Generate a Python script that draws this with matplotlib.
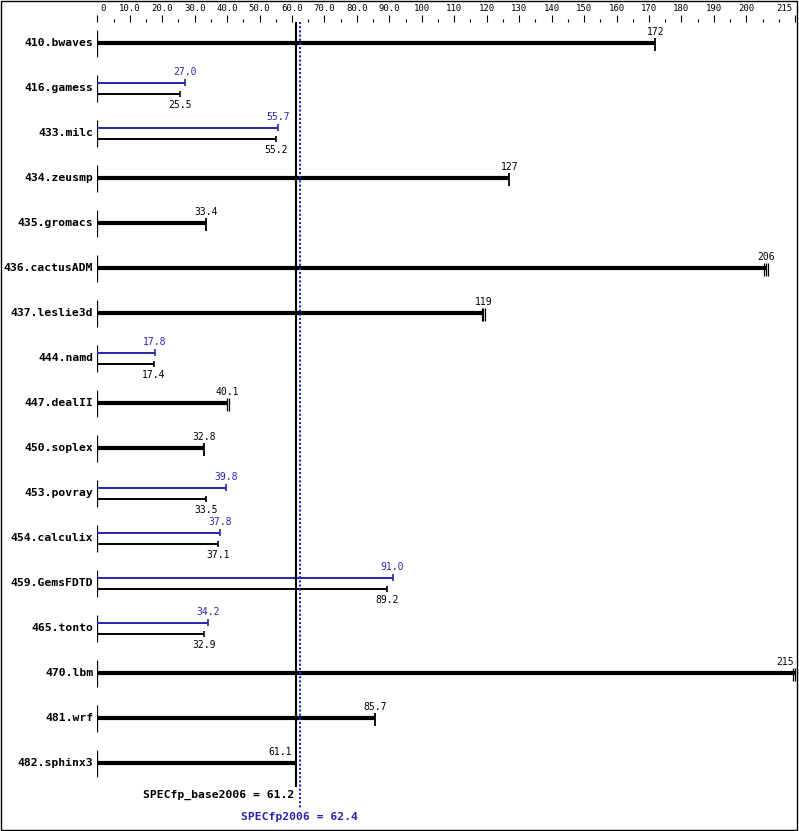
import matplotlib
matplotlib.use("Agg")
import matplotlib.pyplot as plt
import numpy as np
from matplotlib.patches import Rectangle

# SPEC CPU2006 floating point ratios
benchmarks = ["410.bwaves", "416.gamess", "433.milc", "434.zeusmp", "435.gromacs",
              "436.cactusADM", "437.leslie3d", "444.namd", "447.dealII", "450.soplex",
              "453.povray", "454.calculix", "459.GemsFDTD", "465.tonto", "470.lbm",
              "481.wrf", "482.sphinx3"]
base = [172, 25.5, 55.2, 127, 33.4, 206, 119, 17.4, 40.1, 32.8,
        33.5, 37.1, 89.2, 32.9, 215, 85.7, 61.1]
# None = peak same as base (single thick bar)
peak = [None, 27.0, 55.7, None, None, None, None, 17.8, None, None,
        39.8, 37.8, 91.0, 34.2, None, None, None]
# individual run values shown as end ticks where runs differ visibly
runs = {5: [205.4, 206.0, 206.7], 6: [118.5, 119.0, 119.5],
        8: [40.1, 40.7], 14: [214.5, 215.0]}
base_mean = 61.2
peak_mean = 62.4

blue = "#2626b0"
mono = "DejaVu Sans Mono"
W, H = 799, 831
xmax = 215

fig = plt.figure(figsize=(W / 100, H / 100), dpi=100)
fig.patch.set_facecolor("white")
ax = fig.add_axes([97.3 / W, 0, xmax * 3.245 / W, 1])
ax.set_xlim(0, xmax)
ax.set_ylim(17.51, -0.956)
ax.axis("off")

# top scale
for v in range(0, xmax + 1, 5):
    major = (v % 10 == 0 and v != 210) or v == 215
    ax.vlines(v, -0.622 if major else -0.533, -0.467, color="black", lw=0.8, clip_on=False)
tick_labels = [0] + list(range(10, 210, 10)) + [215]
for v in tick_labels:
    s = "0" if v == 0 else (f"{v:.1f}" if v < 100 else str(v))
    ha = "center"
    x = v
    if v == 0:
        ha, x = "left", 0.8
    elif v == xmax:
        ha, x = "right", xmax - 0.7
    ax.text(x, -0.778, s, fontsize=6.5, family=mono, ha=ha, va="center", clip_on=False)


def label_x(v):
    return min(v, xmax - 3)


for i, name in enumerate(benchmarks):
    ax.vlines(0, i - 0.3, i + 0.31, color="black", lw=0.9)
    ax.text(-1.3, i, name, fontsize=8.2, family=mono, weight="bold", ha="right", va="center")
    b = base[i]
    p = peak[i]
    if p is None:
        ax.hlines(i, 0, b, color="black", lw=3.0)
        ends = runs.get(i, [b])
        for r in ends:
            ax.vlines(r, i - 0.12, i + 0.18, color="black", lw=0.9 if len(ends) > 1 else 1.3,
                      clip_on=False)
        lx = label_x(b)
        ha = "center"
        if b < base_mean + 2 and b > base_mean - 6:
            lx, ha = b - 1.0, "right"
        ax.text(lx, i - 0.245, f"{b:.3g}" if b >= 100 else f"{b:.1f}", fontsize=7, family=mono,
                ha=ha, va="center")
    else:
        ax.hlines(i - 0.12, 0, p, color=blue, lw=1.4)
        ax.vlines(p, i - 0.2, i - 0.04, color=blue, lw=1.2)
        ax.text(p, i - 0.35, f"{p:.1f}", fontsize=7, family=mono, color=blue,
                ha="center", va="center")
        ax.hlines(i + 0.14, 0, b, color="black", lw=1.4)
        ax.vlines(b, i + 0.07, i + 0.21, color="black", lw=1.2)
        ax.text(b, i + 0.38, f"{b:.1f}", fontsize=7, family=mono, ha="center", va="center")

# geometric means
n = len(benchmarks)
ax.vlines(base_mean, -0.467, n - 0.47, color="black", lw=1.5, clip_on=False)
ax.vlines(peak_mean, -0.467, n, color=blue, lw=1.5, linestyles=(0, (1, 1)), clip_on=False)
ax.text(base_mean - 0.4, n - 0.29, f"SPECfp_base2006 = {base_mean}", fontsize=8.2, family=mono,
        weight="bold", ha="right", va="center")
ax.text(peak_mean, n + 0.2, f"SPECfp2006 = {peak_mean}", fontsize=8.2, family=mono,
        weight="bold", color=blue, ha="center", va="center")

fig.add_artist(Rectangle((0.5 / W, 1.5 / H), 796.5 / W, 829 / H, transform=fig.transFigure,
                         fill=False, edgecolor="black", lw=1.0))

fig.savefig("out.png", dpi=100)
